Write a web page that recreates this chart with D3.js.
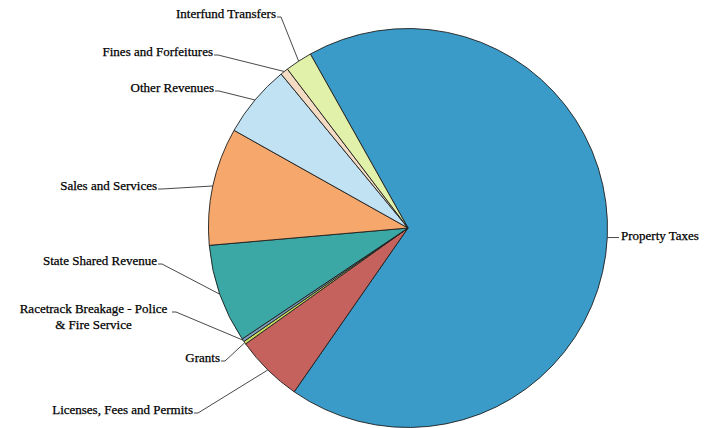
<!DOCTYPE html>
<html>
<head>
<meta charset="utf-8">
<script src="https://cdn.jsdelivr.net/npm/d3@7"></script>
<style>
  html, body { margin: 0; padding: 0; background: #fff; }
  svg { display: block; }
  text { font-family: "Liberation Serif", serif; font-size: 13px; fill: #000; stroke: #000; stroke-width: 0.25px; }
</style>
</head>
<body>
<svg id="chart" width="707" height="428"></svg>
<script>
// General fund revenue sources (share of total, %)
const categories = [
  "Property Taxes",
  "Licenses, Fees and Permits",
  "Grants",
  "Racetrack Breakage - Police & Fire Service",
  "State Shared Revenue",
  "Sales and Services",
  "Other Revenues",
  "Fines and Forfeitures",
  "Interfund Transfers"
];
const shares = [67.81, 5.47, 0.24, 0.24, 8.0, 9.53, 5.89, 0.64, 2.19];
const sliceColors = [
  "#3a9bc9", "#c6625d", "#c9dc5e", "#7f9fbd", "#3ca8a5",
  "#f6a86c", "#c0e2f3", "#f3dcc3", "#e2f1a9"
];

// Label placement: text anchor point, alignment and text lines
const labelLayout = [
  { x: 621, y: 240, anchor: "start", lines: ["Property Taxes"] },
  { x: 193, y: 414, anchor: "end", lines: ["Licenses, Fees and Permits"] },
  { x: 220, y: 362, anchor: "end", lines: ["Grants"] },
  { x: 93.5, y: 313, anchor: "middle", lines: ["Racetrack Breakage - Police", "& Fire Service"], lineEnd: 171 },
  { x: 157, y: 265, anchor: "end", lines: ["State Shared Revenue"] },
  { x: 157, y: 190, anchor: "end", lines: ["Sales and Services"] },
  { x: 214, y: 92, anchor: "end", lines: ["Other Revenues"] },
  { x: 213, y: 56, anchor: "end", lines: ["Fines and Forfeitures"] },
  { x: 276, y: 18, anchor: "end", lines: ["Interfund Transfers"] }
];

const cx = 408, cy = 228, radius = 199.5;
const startDeg = -29.3;

const svg = d3.select("#chart");
const g = svg.append("g").attr("transform", `translate(${cx},${cy})`);

const pie = d3.pie()
  .sort(null)
  .value(d => d.value)
  .startAngle(startDeg * Math.PI / 180)
  .endAngle(startDeg * Math.PI / 180 + 2 * Math.PI);

const data = categories.map((c, i) => ({ name: c, value: shares[i], color: sliceColors[i], label: labelLayout[i] }));
const arcs = pie(data);

const arc = d3.arc().innerRadius(0).outerRadius(radius);

g.selectAll("path.slice")
  .data(arcs)
  .join("path")
  .attr("class", "slice")
  .attr("d", arc)
  .attr("fill", d => d.data.color)
  .attr("stroke", "#1e1e1e")
  .attr("stroke-width", 0.9)
  .attr("stroke-linejoin", "round");

// Leader lines from each label to the midpoint of its slice's rim
const leaders = svg.append("g")
  .attr("fill", "none")
  .attr("stroke", "#333")
  .attr("stroke-width", 0.9);

arcs.forEach(d => {
  const L = d.data.label;
  const mid = (d.startAngle + d.endAngle) / 2;
  const px = cx + radius * Math.sin(mid);
  const py = cy - radius * Math.cos(mid);
  let pts;
  if (L.anchor === "start") {
    pts = [[px, py], [L.x - 2, py]];
  } else {
    const ex = L.lineEnd !== undefined ? L.lineEnd : L.x;
    const ly = L.y - 1;
    pts = [[ex + 1, ly], [ex + 5, ly], [px, py]];
  }
  leaders.append("path").attr("d", d3.line()(pts));
});

const labels = svg.append("g");
arcs.forEach(d => {
  const L = d.data.label;
  const t = labels.append("text")
    .attr("x", L.x)
    .attr("y", L.y)
    .attr("text-anchor", L.anchor);
  L.lines.forEach((line, k) => {
    t.append("tspan")
      .attr("x", L.x)
      .attr("dy", k === 0 ? 0 : 16)
      .text(line);
  });
});
</script>
</body>
</html>
